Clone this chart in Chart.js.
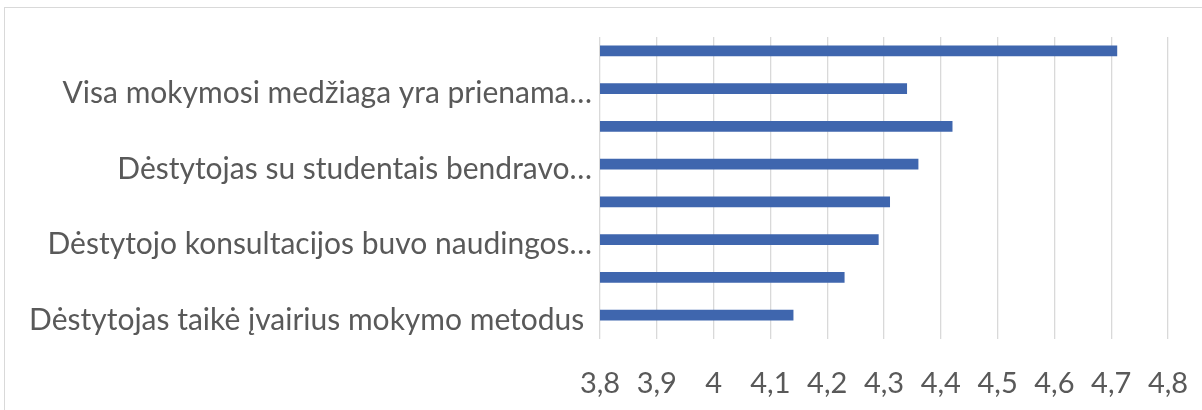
<!DOCTYPE html>
<html>
<head>
<meta charset="utf-8">
<script src="https://cdn.jsdelivr.net/npm/chart.js@4"></script>
<style>
  html, body { margin: 0; padding: 0; background: #fff; overflow: hidden; }
  .wrap { position: relative; width: 1202px; height: 410px; }
  .frame { position: absolute; left: 4px; top: 7px; width: 1400px; height: 600px; border: 1px solid #d9d9d9; box-sizing: border-box; }
  canvas { position: absolute; left: 0; top: 0; }
</style>
</head>
<body>
<div class="wrap">
  <div class="frame"></div>
  <canvas id="myChart" width="1202" height="410"></canvas>
</div>
<script>
// data (top to bottom) - Excel only printed every second label
const categories = [
  "",
  "Visa mokymosi medžiaga yra prienama…",
  "",
  "Dėstytojas su studentais bendravo…",
  "",
  "Dėstytojo konsultacijos buvo naudingos…",
  "",
  "Dėstytojas taikė įvairius mokymo metodus ",
];
const scores = [4.71, 4.34, 4.42, 4.36, 4.31, 4.29, 4.23, 4.14];
// second (empty) series, like in the source sheet - it shifts the bars up a bit
const emptySeries = [null, null, null, null, null, null, null, null];
const axisMin = 3.8;
const axisMax = 4.8;
const axisStep = 0.1;

const textColor = "#595959";
const fontFamily = "Lato, 'Open Sans', sans-serif";

const ctx = document.getElementById("myChart").getContext("2d");
const myChart = new Chart(ctx, {
  type: "bar",
  data: {
    labels: categories,
    datasets: [
      {
        label: "Vidurkis",
        data: scores,
        backgroundColor: "#3f66ae",
        barThickness: 10,
      },
      {
        label: "",
        data: emptySeries,
        backgroundColor: "#ed7d31",
        barThickness: 10,
      },
    ],
  },
  options: {
    indexAxis: "y",
    responsive: false,
    animation: false,
    layout: { padding: { top: 37, right: 34, left: 0, bottom: 0 } },
    plugins: {
      legend: { display: false },
      tooltip: { enabled: false },
    },
    scales: {
      x: {
        min: axisMin,
        max: axisMax,
        grid: { color: "#d9d9d9", lineWidth: 1.3, drawTicks: false },
        border: { display: false },
        ticks: {
          stepSize: axisStep,
          padding: 27,
          color: textColor,
          font: { family: fontFamily, size: 29 },
          callback: (v) => String(Math.round(v * 10) / 10).replace(".", ","),
        },
        afterFit: (scale) => {
          scale.height = 71;
          scale.paddingLeft = 0;
          scale.paddingRight = 0;
        },
      },
      y: {
        grid: { display: false, drawTicks: false },
        border: { display: false },
        ticks: {
          autoSkip: false,
          padding: 8,
          color: textColor,
          font: { family: fontFamily, size: 30 },
          callback: function (v, i) { return categories[i]; },
        },
        afterFit: (scale) => {
          scale.width = 600;
          scale.paddingTop = 0;
          scale.paddingBottom = 0;
        },
      },
    },
  },
});
</script>
</body>
</html>
